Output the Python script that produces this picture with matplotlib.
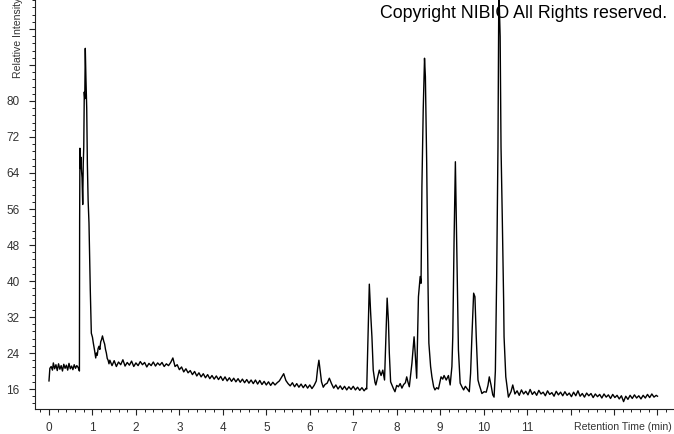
import numpy as np
import matplotlib
matplotlib.use("Agg")
import matplotlib.pyplot as plt
from matplotlib.ticker import MultipleLocator, FixedLocator

plt.rcParams["font.family"] = ["Liberation Sans", "DejaVu Sans"]

# trace, split into segments
rt_front = [0.00, 0.02, 0.05, 0.08, 0.10, 0.13, 0.16, 0.19, 0.22, 0.25, 0.28, 0.31,
            0.34, 0.37, 0.40, 0.43, 0.46, 0.49, 0.52, 0.55, 0.58, 0.61, 0.64, 0.67,
            0.700, 0.705, 0.712, 0.724, 0.736, 0.748, 0.760, 0.776, 0.788, 0.800,
            0.812, 0.823, 0.835, 0.850, 0.868, 0.883, 0.900, 0.920, 0.935, 0.950,
            0.974, 1.000, 1.020, 1.050, 1.075, 1.090, 1.110, 1.130, 1.150, 1.170,
            1.190, 1.210, 1.230, 1.245, 1.260, 1.280, 1.300, 1.320, 1.340, 1.360,
            1.380, 1.400]
int_front = [17.8, 20.6, 21.0, 20.2, 21.8, 20.5, 21.4, 20.1, 21.6, 20.4, 21.2, 20.0,
             21.5, 20.6, 21.3, 20.2, 21.7, 20.5, 21.1, 20.3, 21.4, 20.6, 21.2, 20.8,
             20.0, 53.0, 69.5, 65.0, 67.5, 64.5, 63.0, 57.0, 66.0, 69.8,
             82.0, 80.5, 91.7, 85.0, 78.4, 66.0, 58.0, 52.9, 45.0, 38.0,
             28.4, 27.5, 26.2, 24.5, 22.9, 24.0, 23.5, 25.0, 25.5, 24.8,
             26.5, 27.0, 27.8, 27.2, 26.6, 26.0, 24.8, 24.0, 22.8, 22.4,
             21.6, 22.4]

rt_mid = [1.45, 1.50, 1.55, 1.60, 1.65, 1.70, 1.75, 1.80, 1.85, 1.90,
          1.95, 2.00, 2.05, 2.10, 2.15, 2.20, 2.25, 2.30, 2.35, 2.40,
          2.45, 2.50, 2.55, 2.60, 2.65, 2.70, 2.75, 2.80, 2.85, 2.90,
          2.95, 3.00, 3.05, 3.10, 3.15, 3.20, 3.25, 3.30, 3.35, 3.40,
          3.45, 3.50, 3.55, 3.60, 3.65, 3.70, 3.75, 3.80, 3.85, 3.90,
          3.95, 4.00, 4.05, 4.10, 4.15, 4.20, 4.25, 4.30, 4.35, 4.40,
          4.45, 4.50, 4.55, 4.60, 4.65, 4.70, 4.75, 4.80, 4.85, 4.90,
          4.95, 5.00, 5.05, 5.10, 5.15, 5.20, 5.25, 5.30, 5.35, 5.40,
          5.45, 5.50, 5.55, 5.60, 5.65, 5.70, 5.75, 5.80, 5.85, 5.90,
          5.95, 6.00, 6.05, 6.10, 6.15, 6.18, 6.21, 6.24, 6.27, 6.31,
          6.35, 6.40, 6.45, 6.50, 6.55, 6.60, 6.65, 6.70, 6.75, 6.80,
          6.85, 6.90, 6.95, 7.00, 7.05, 7.10, 7.15, 7.20, 7.25, 7.30]
int_mid = [21.2, 22.3, 21.0, 22.0, 21.4, 22.5, 21.1, 21.9, 21.3, 22.2,
           21.0, 21.8, 21.2, 22.1, 21.4, 21.9, 20.9, 21.7, 21.2, 22.0,
           21.1, 21.8, 21.3, 21.9, 21.0, 21.6, 21.2, 21.9, 22.9, 21.0,
           21.4, 20.3, 20.9, 19.8, 20.5, 19.6, 20.1, 19.2, 19.9, 18.9,
           19.6, 18.7, 19.4, 18.5, 19.2, 18.3, 19.0, 18.2, 18.9, 18.1,
           18.8, 17.9, 18.7, 17.8, 18.5, 17.7, 18.4, 17.6, 18.3, 17.5,
           18.2, 17.4, 18.1, 17.3, 18.0, 17.2, 18.0, 17.1, 17.9, 17.0,
           17.7, 16.9, 17.6, 16.8, 17.5, 16.9, 17.4, 17.8, 18.6, 19.4,
           17.9, 17.2, 16.7, 17.4, 16.5, 17.2, 16.4, 17.1, 16.3, 17.0,
           16.2, 16.9, 16.1, 16.8, 17.8, 20.5, 22.4, 20.0, 17.6, 16.4,
           17.0, 17.3, 18.4, 17.2, 16.2, 16.9, 16.0, 16.7, 15.9, 16.6,
           15.8, 16.5, 15.9, 16.6, 15.8, 16.4, 15.7, 16.3, 15.6, 16.2]

rt_peaks = [7.31, 7.34, 7.37, 7.40, 7.43, 7.46, 7.50, 7.52, 7.56, 7.60,
            7.64, 7.68, 7.72, 7.74, 7.78, 7.81, 7.83, 7.86, 7.92, 7.96,
            8.00, 8.04, 8.08, 8.12, 8.16, 8.20, 8.23, 8.26, 8.29, 8.35,
            8.40, 8.43, 8.46, 8.50, 8.54, 8.56, 8.58, 8.61, 8.64, 8.66,
            8.69, 8.72, 8.74, 8.78, 8.81, 8.85, 8.88, 8.92, 8.96, 9.02,
            9.06, 9.09, 9.14, 9.19, 9.23, 9.27, 9.29, 9.32, 9.35, 9.38,
            9.42, 9.46, 9.50, 9.54, 9.58, 9.61, 9.67, 9.70, 9.73, 9.77,
            9.80, 9.83, 9.87, 9.90, 9.93, 9.96, 10.01, 10.06, 10.10, 10.13,
            10.17, 10.21, 10.24, 10.27, 10.30, 10.33, 10.35, 10.38, 10.40, 10.43,
            10.46, 10.47, 10.51, 10.57, 10.63, 10.67, 10.72]
int_peaks = [16.0, 28.0, 39.3, 33.0, 27.6, 20.2, 17.5, 16.9, 18.5, 20.2,
             19.0, 20.2, 18.0, 24.0, 36.2, 31.0, 24.0, 17.6, 16.2, 15.4,
             16.8, 16.5, 17.2, 16.2, 17.0, 17.4, 18.7, 17.5, 16.5, 21.7,
             27.6, 23.2, 18.4, 36.5, 41.0, 39.5, 61.0, 78.0, 89.5, 85.4,
             66.2, 39.5, 26.2, 21.0, 18.7, 16.5, 15.8, 16.3, 16.0, 18.7,
             18.2, 19.0, 18.0, 19.0, 16.9, 21.0, 27.6, 49.1, 66.5, 49.1,
             24.7, 17.3, 16.5, 15.8, 16.6, 16.2, 15.4, 19.5, 27.6, 37.3,
             36.5, 27.6, 18.0, 16.9, 16.0, 15.0, 15.4, 15.3, 16.8, 18.7,
             16.9, 14.7, 14.2, 20.0, 41.0, 69.8, 105.0, 94.3, 69.8, 53.6,
             35.8, 27.6, 18.7, 14.2, 15.4, 16.9, 14.9]

rt_tail = [10.77, 10.82, 10.87, 10.92, 10.97, 11.02, 11.07, 11.12, 11.17, 11.22,
           11.27, 11.32, 11.37, 11.42, 11.47, 11.52, 11.57, 11.62, 11.67, 11.72,
           11.77, 11.82, 11.87, 11.92, 11.97, 12.02, 12.07, 12.12, 12.17, 12.22,
           12.27, 12.32, 12.37, 12.42, 12.47, 12.52, 12.57, 12.62, 12.67, 12.72,
           12.77, 12.82, 12.87, 12.92, 12.97, 13.02, 13.07, 13.12, 13.17, 13.22,
           13.27, 13.32, 13.37, 13.42, 13.47, 13.52, 13.57, 13.62, 13.67, 13.72,
           13.77, 13.82, 13.87, 13.92, 13.97, 14.00]
int_tail = [15.6, 14.6, 15.8, 14.9, 15.5, 14.7, 15.9, 14.8, 15.4, 14.6,
            15.7, 14.9, 15.3, 14.5, 15.6, 14.8, 15.2, 14.4, 15.5, 14.7,
            15.3, 14.5, 15.4, 14.6, 15.1, 14.3, 15.3, 14.5, 15.6, 14.4,
            15.0, 14.2, 15.1, 14.5, 15.0, 14.1, 14.9, 14.3, 14.8, 14.0,
            14.9, 14.2, 14.7, 13.9, 14.8, 14.1, 14.6, 13.8, 14.5, 13.2,
            14.4, 13.7, 14.6, 13.9, 14.7, 14.0, 14.5, 13.8, 14.6, 14.0,
            14.8, 14.1, 14.9, 14.2, 14.6, 14.4]

y_major = [16, 24, 32, 40, 48, 56, 64, 72, 80, 88, 96]
y_labels = ["16", "24", "32", "40", "48", "56", "64", "72", "80", "", ""]
x_major = list(range(0, 15))
x_labels = [str(v) if v <= 11 else "" for v in x_major]

rt = np.concatenate([rt_front, rt_mid, rt_peaks, rt_tail])
inten = np.concatenate([int_front, int_mid, int_peaks, int_tail])

W, H = 674, 434
fig = plt.figure(figsize=(W / 100, H / 100), dpi=100)
ax = fig.add_axes([35 / W, 25 / H, 1 - 35 / W, 1 - 25 / H])
ax.plot(rt, inten, color="black", lw=1.0)

ax.set_xlim(-0.322, 14.38)
ax.set_ylim(11.56, 102.44)
for s in ["top", "right"]:
    ax.spines[s].set_visible(False)
for s in ["left", "bottom"]:
    ax.spines[s].set_color("#222222")
    ax.spines[s].set_linewidth(0.8)

ax.yaxis.set_major_locator(FixedLocator(y_major))
ax.set_yticklabels(y_labels)
ax.yaxis.set_minor_locator(MultipleLocator(1.6))
ax.xaxis.set_major_locator(FixedLocator(x_major))
ax.set_xticklabels(x_labels)
ax.xaxis.set_minor_locator(MultipleLocator(0.2))
ax.tick_params(which="major", length=4.5, width=0.8, color="#222222",
               labelsize=8.5, labelcolor="#333333")
ax.tick_params(which="minor", length=2.5, width=0.7, color="#222222")
ax.tick_params(axis="y", which="major", pad=6.5)
ax.tick_params(axis="x", which="major", pad=5)

fig.text(672 / W, (H - 427) / H, "Retention Time (min)", ha="right", va="center",
         fontsize=7.6, color="#333333")
fig.text(18 / W, (H - 78) / H, "Relative Intensity", rotation=90, ha="center",
         va="bottom", fontsize=7.6, color="#333333")
fig.text(667 / W, (H - 14) / H, "Copyright NIBIO All Rights reserved.", ha="right",
         va="center", fontsize=12.8, color="black")

fig.savefig("out.png", dpi=100)
